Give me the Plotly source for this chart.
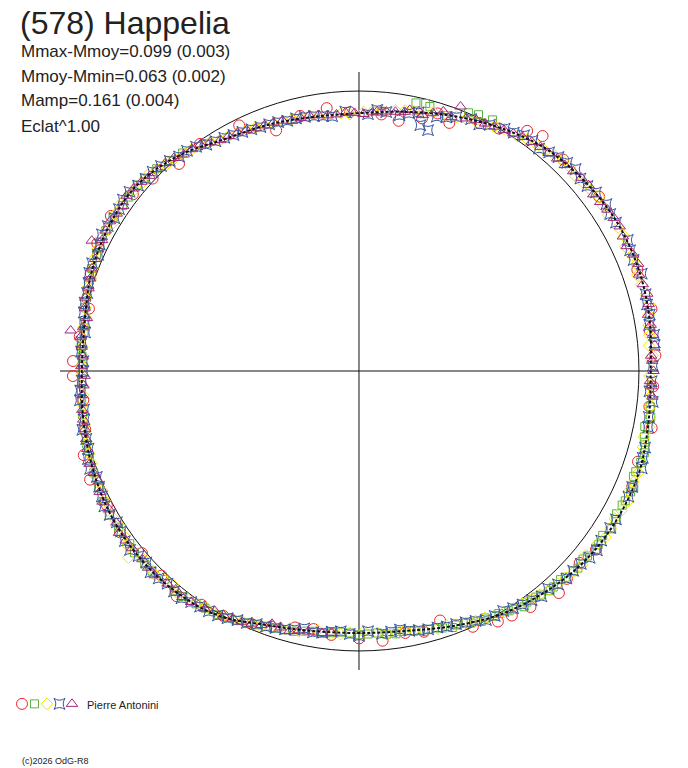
import plotly.graph_objects as go

# phase (deg, 0 at top, clockwise) and relative flux for each session
red_ph = [9, 17, 20, 35, 41, 47, 50, 57, 66, 73, 82, 93, 101, 108, 113, 122, 131, 138, 144, 151,
          162, 170, 175, 186, 194, 203, 214, 224, 236, 248, 258, 269, 272, 283, 296, 313, 319, 334, 341, 353, 358,
          5, 14, 26, 30, 38, 44, 54, 62, 70, 78, 87, 97, 117, 127, 135, 148, 156, 166, 180, 190, 199, 209,
          219, 230, 242, 253, 264, 277, 290, 302, 308, 325, 347]
red_fl = [0.905, 0.962, 0.943, 1.047, 1.083, 1.089, 1.087, 1.097, 1.070, 1.076, 1.048, 1.052, 1.065, 1.048,
          1.060, 1.096, 1.045, 1.067, 1.042, 1.023, 0.937, 0.950, 0.967, 0.948, 0.944, 0.982, 1.007, 1.016,
          1.030, 1.036, 1.000, 1.022, 1.022, 0.990, 1.040, 1.008, 0.980, 0.976, 0.909, 0.946, 0.925,
          0.920, 0.930, 0.985, 1.000, 1.065, 1.050, 1.060, 1.080, 1.058, 1.068, 1.060, 1.045, 1.072, 1.060,
          1.050, 1.030, 1.000, 0.960, 0.955, 0.936, 0.965, 1.000, 1.035, 1.012, 1.020, 1.028, 0.990, 1.005,
          1.020, 1.045, 1.025, 0.990, 0.935]

green_ph = [5, 12, 14, 15, 19, 23, 25, 28, 97, 101, 104, 108, 111, 114, 117, 120, 124, 127, 130, 133, 136,
            139, 142, 145, 148, 151, 154, 157, 160, 163, 166, 169, 172, 176, 180, 184, 188, 192, 196, 200,
            204, 208, 213, 218, 223, 228, 233, 240, 246, 252, 258, 264, 268, 271, 275, 280, 285, 291, 296,
            302, 307, 312, 318,
            99, 103, 106, 110, 113, 116, 119, 122, 126, 129, 132, 135, 138, 141, 144, 147, 150, 153, 156,
            159, 162, 165, 168, 171, 174, 178, 182, 186, 190, 194, 198, 202, 206, 210, 215, 220, 226, 231,
            237, 243, 249, 255, 261, 266, 273, 278, 283, 288, 294, 299, 305, 310, 315, 321, 326]
green_fl = [0.930, 0.979, 0.985, 0.978, 0.965, 1.002, 1.010, 1.016, 1.048, 1.040, 1.052, 1.058, 1.050, 1.062,
            1.055, 1.060, 1.050, 1.058, 1.045, 1.048, 1.036, 1.040, 1.025, 1.028, 1.010, 1.002, 0.995, 0.980,
            0.975, 0.960, 0.958, 0.945, 0.948, 0.938, 0.942, 0.935, 0.946, 0.950, 0.962, 0.970, 0.985, 0.998,
            1.010, 1.022, 1.018, 1.030, 1.025, 1.030, 1.018, 1.012, 1.005, 0.996, 0.992, 0.988, 0.996, 0.998,
            1.008, 1.022, 1.030, 1.036, 1.032, 1.030, 1.012,
            1.055, 1.046, 1.060, 1.052, 1.066, 1.058, 1.052, 1.064, 1.056, 1.050, 1.052, 1.042, 1.038, 1.030,
            1.020, 1.015, 1.000, 0.990, 0.985, 0.972, 0.965, 0.955, 0.950, 0.942, 0.945, 0.940, 0.936, 0.940,
            0.944, 0.958, 0.966, 0.978, 0.992, 1.005, 1.015, 1.025, 1.028, 1.032, 1.024, 1.026, 1.015, 1.008,
            1.000, 0.994, 0.990, 0.992, 1.004, 1.016, 1.026, 1.034, 1.030, 1.034, 1.022, 1.002, 0.980]

yellow_ph = [1, 5, 10, 14, 19, 23, 27, 31, 36, 40, 44, 48, 52, 56, 61, 65, 69, 73, 77, 81, 85, 88, 91, 95,
             99, 103, 108, 112, 116, 120, 124, 129, 133, 137, 141, 145, 149, 153, 157, 161, 166, 170, 174,
             179, 184, 189, 193, 197, 201, 205, 209, 213, 217, 221, 225, 229, 233, 237, 241, 245, 249, 253,
             257, 261, 265, 269, 273, 277, 281, 285, 289, 293, 297, 301, 305, 309, 313, 317, 321, 325, 329,
             333, 337, 341, 345, 349, 353, 356,
             3, 8, 12, 16, 21, 25, 29, 34, 38, 42, 46, 50, 54, 58, 63, 67, 71, 75, 79, 83, 87, 93, 97, 101,
             105, 110, 114, 118, 122, 126, 131, 135, 139, 143, 147, 151, 155, 159, 163, 168, 172, 176, 182,
             186, 191, 195, 199, 203, 207, 211, 215, 219, 223, 227, 231, 235, 239, 243, 247, 251, 255, 259,
             263, 267, 271, 275, 279, 283, 287, 291, 295, 299, 303, 307, 311, 315, 319, 323, 327, 331, 335,
             339, 343, 347, 351, 358]
yellow_fl = [0.925, 0.935, 0.945, 0.952, 0.965, 0.978, 0.990, 1.008, 1.022, 1.030, 1.045, 1.040, 1.050, 1.052,
             1.058, 1.050, 1.062, 1.055, 1.064, 1.048, 1.040, 1.046, 1.038, 1.045, 1.052, 1.045, 1.060, 1.058,
             1.066, 1.055, 1.062, 1.045, 1.050, 1.040, 1.028, 1.015, 1.005, 0.990, 0.978, 0.962, 0.955, 0.940,
             0.945, 0.932, 0.942, 0.938, 0.955, 0.958, 0.978, 0.985, 1.000, 1.005, 1.018, 1.012, 1.030, 1.022,
             1.035, 1.018, 1.028, 1.012, 1.020, 1.008, 1.002, 0.998, 0.990, 0.992, 0.985, 0.998, 0.992, 1.010,
             1.012, 1.028, 1.036, 1.025, 1.040, 1.030, 1.030, 1.008, 1.000, 0.985, 0.962, 0.955, 0.945, 0.935,
             0.930, 0.928, 0.918, 0.922,
             0.930, 0.940, 0.948, 0.962, 0.972, 0.985, 0.998, 1.012, 1.028, 1.040, 1.048, 1.046, 1.058, 1.050,
             1.062, 1.058, 1.052, 1.060, 1.055, 1.046, 1.050, 1.042, 1.048, 1.055, 1.050, 1.062, 1.055, 1.062,
             1.060, 1.052, 1.055, 1.045, 1.035, 1.022, 1.012, 0.998, 0.985, 0.970, 0.962, 0.948, 0.942, 0.938,
             0.935, 0.945, 0.948, 0.952, 0.970, 0.980, 0.995, 1.008, 1.012, 1.025, 1.020, 1.028, 1.060, 1.025,
             1.022, 1.020, 1.015, 1.010, 1.006, 0.998, 0.995, 0.988, 0.990, 0.992, 0.996, 1.002, 1.015, 1.020,
             1.030, 1.032, 1.035, 1.035, 1.025, 1.020, 1.005, 0.992, 0.975, 0.960, 0.950, 0.940, 0.932, 0.928,
             0.922, 0.918]

blue_ph = [2, 6, 9, 13, 17, 21, 24, 28, 33, 37, 41, 45, 49, 53, 58, 62, 66, 71, 75, 79, 83, 86, 89, 92, 96,
           99, 103, 107, 111, 115, 118, 122, 127, 131, 135, 139, 143, 147, 151, 155, 159, 163, 167, 171, 175,
           178, 182, 186, 190, 194, 198, 202, 206, 210, 214, 218, 222, 226, 230, 234, 238, 242, 246, 250, 254,
           258, 262, 266, 270, 274, 278, 282, 286, 290, 294, 298, 302, 306, 310, 314, 318, 322, 326, 330, 334,
           338, 342, 346, 350, 354, 357,
           4, 11, 14, 16, 19, 26, 31, 35, 39, 43, 47, 51, 56, 60, 64, 68, 73, 77, 81, 85, 87, 94, 98, 101,
           105, 109, 113, 117, 120, 125, 129, 133, 137, 141, 145, 149, 153, 157, 161, 165, 169, 173, 180,
           184, 188, 192, 196, 200, 204, 208, 212, 216, 220, 224, 228, 232, 236, 240, 244, 248, 252, 256,
           260, 264, 268, 272, 276, 280, 284, 288, 292, 296, 300, 304, 308, 312, 316, 320, 324, 328, 332,
           336, 340, 344, 348, 352]
blue_fl = [0.918, 0.930, 0.925, 0.948, 0.950, 0.972, 0.985, 0.996, 1.015, 1.030, 1.035, 1.052, 1.048, 1.060,
           1.058, 1.075, 1.060, 1.068, 1.060, 1.058, 1.062, 1.072, 1.050, 1.046, 1.055, 1.048, 1.070, 1.060,
           1.075, 1.062, 1.070, 1.058, 1.064, 1.050, 1.048, 1.030, 1.025, 1.010, 1.000, 0.985, 0.968, 0.958,
           0.950, 0.935, 0.942, 0.930, 0.940, 0.936, 0.948, 0.952, 0.965, 0.975, 0.990, 1.008, 1.015, 1.030,
           1.022, 1.035, 1.028, 1.034, 1.020, 1.030, 1.016, 1.022, 1.005, 1.010, 0.992, 0.998, 0.985, 0.995,
           0.988, 1.005, 1.010, 1.025, 1.020, 1.040, 1.030, 1.042, 1.030, 1.025, 1.010, 0.998, 0.975, 0.962,
           0.950, 0.940, 0.935, 0.930, 0.925, 0.915, 0.928,
           0.935, 0.938, 0.905, 0.895, 0.958, 0.980, 1.010, 1.028, 1.022, 1.045, 1.058, 1.050, 1.066, 1.060,
           1.068, 1.058, 1.070, 1.056, 1.050, 1.060, 1.090, 1.040, 1.085, 1.052, 1.058, 1.068, 1.060, 1.078,
           1.060, 1.056, 1.060, 1.046, 1.042, 1.036, 1.018, 1.000, 0.998, 0.975, 0.965, 0.955, 0.945, 0.938,
           0.946, 0.932, 0.944, 0.940, 0.960, 0.972, 0.985, 1.000, 1.012, 1.020, 1.028, 1.030, 1.022, 1.038,
           1.025, 1.028, 1.022, 1.010, 1.018, 1.004, 0.996, 1.002, 0.990, 0.986, 0.996, 0.994, 1.010, 1.016,
           1.028, 1.030, 1.036, 1.034, 1.040, 1.026, 1.018, 1.000, 0.990, 0.968, 0.955, 0.945, 0.938, 0.930,
           0.928, 0.920]

purple_ph = [186, 191, 195, 199, 203, 207, 211, 216, 220, 225, 229, 234, 238, 243, 247, 251, 256, 260, 265,
             269, 273, 277, 278, 281, 285, 289, 293, 297, 301, 305, 309, 313, 317, 321, 325, 329, 333, 337,
             341, 345, 349, 353, 357, 1, 4, 8, 11, 14, 18, 21, 25, 29, 33, 37, 41, 45, 49, 53, 57, 61, 65,
             69, 73, 77, 81, 85, 88, 92, 95,
             188, 193, 197, 201, 205, 209, 213, 218, 222, 227, 232, 236, 241, 245, 249, 254, 258, 262, 267,
             271, 275, 279, 283, 287, 291, 295, 296, 299, 303, 307, 311, 315, 319, 323, 327, 331, 335, 339,
             343, 347, 351, 355, 359, 3, 6, 10, 13, 16, 20, 23, 27, 31, 35, 39, 43, 47, 51, 55, 59, 63, 67,
             71, 75, 79, 83, 87, 90, 93]
purple_fl = [0.940, 0.948, 0.962, 0.955, 0.980, 0.992, 1.000, 1.020, 1.018, 1.032, 1.025, 1.030, 1.022,
             1.028, 1.010, 1.018, 1.004, 1.000, 0.992, 0.980, 0.988, 1.002, 1.040, 0.990, 1.012, 1.015,
             1.024, 1.030, 1.038, 1.028, 1.036, 1.022, 1.015, 0.995, 0.988, 0.962, 0.955, 0.942, 0.938,
             0.925, 0.930, 0.920, 0.925, 0.918, 0.930, 0.935, 0.950, 0.942, 0.975, 1.012, 0.990, 0.998,
             1.012, 1.025, 1.032, 1.040, 1.052, 1.048, 1.058, 1.065, 1.055, 1.068, 1.060, 1.062, 1.055,
             1.060, 1.048, 1.040, 1.052,
             0.945, 0.952, 0.958, 0.972, 0.988, 0.998, 1.012, 1.025, 1.022, 1.030, 1.028, 1.034, 1.020,
             1.022, 1.016, 1.010, 1.000, 0.998, 0.985, 0.992, 0.994, 0.998, 1.005, 1.010, 1.022, 1.028,
             1.062, 1.035, 1.032, 1.040, 1.030, 1.020, 1.008, 0.992, 0.975, 0.960, 0.950, 0.940, 0.935,
             0.928, 0.925, 0.920, 0.922, 0.925, 0.932, 0.940, 0.952, 0.958, 0.965, 0.980, 0.992, 1.005,
             1.020, 1.030, 1.038, 1.046, 1.055, 1.052, 1.062, 1.058, 1.064, 1.058, 1.066, 1.052, 1.058,
             1.045, 1.052, 1.046]

# fitted curve
fit_ph = [0, 10, 20, 30, 40, 50, 60, 70, 80, 90, 100, 110, 120, 130, 140, 150, 160, 170, 180,
          190, 200, 210, 220, 230, 240, 250, 260, 270, 280, 290, 300, 310, 320, 330, 340, 350, 360]
fit_fl = [0.921, 0.940, 0.970, 1.004, 1.037, 1.053, 1.064, 1.063, 1.054, 1.042, 1.050, 1.064, 1.063,
          1.054, 1.032, 1.005, 0.970, 0.943, 0.936, 0.943, 0.966, 1.008, 1.025, 1.029, 1.025, 1.013,
          1.000, 0.990, 0.995, 1.018, 1.032, 1.034, 1.003, 0.957, 0.937, 0.922, 0.921]

series = [
    (red_ph, red_fl, 'circle-open', '#e8262d', 11),
    (green_ph, green_fl, 'square-open', '#5ab33f', 8),
    (yellow_ph, yellow_fl, 'diamond-open', '#f2e600', 9),
    (blue_ph, blue_fl, 'star-square-open', '#3553a5', 10),
    (purple_ph, purple_fl, 'triangle-up-open', '#a3287c', 10),
]

fig = go.Figure()
for ph, fl, sym, col, sz in series:
    fig.add_trace(go.Scatterpolar(r=fl, theta=ph, mode='markers',
                                  marker=dict(symbol=sym, size=sz, color=col, line=dict(width=1, color=col))))
fig.add_trace(go.Scatterpolar(r=fit_fl, theta=fit_ph, mode='lines',
                              line=dict(color='#111', width=2, dash='3px,2px', shape='spline')))

# legend markers along the bottom
for i, (ph, fl, sym, col, sz) in enumerate(series):
    fig.add_trace(go.Scatter(x=[i], y=[0], mode='markers', xaxis='x2', yaxis='y2',
                             marker=dict(symbol=sym, size=sz, color=col, line=dict(width=1, color=col))))

fig.update_layout(
    width=688, height=768,
    margin=dict(l=0, r=0, t=0, b=0),
    paper_bgcolor='white', plot_bgcolor='white',
    showlegend=False,
    font=dict(family='Liberation Sans, Arial', color='#222'),
    polar=dict(
        domain=dict(x=[0.0872, 0.9564], y=[0.1276, 0.90625]),
        bgcolor='white',
        radialaxis=dict(range=[0, 1.068], tickvals=[1.0], showticklabels=False, ticks='',
                        showline=False, gridcolor='#111', gridwidth=1),
        angularaxis=dict(rotation=90, direction='clockwise', tickvals=[0, 90, 180, 270],
                         showticklabels=False, ticks='', showline=False,
                         gridcolor='#111', gridwidth=1),
    ),
    xaxis2=dict(domain=[15.75 / 688, 78.25 / 688], range=[-0.5, 4.5], visible=False),
    yaxis2=dict(domain=[0.07, 0.097], range=[-1, 1], visible=False),
    annotations=[
        dict(text='(578) Happelia', x=18 / 688, y=1 - 23 / 768, xref='paper', yref='paper',
             xanchor='left', yanchor='middle', showarrow=False, font=dict(size=32, color='#222')),
        dict(text='Mmax-Mmoy=0.099 (0.003)', x=19 / 688, y=1 - 51 / 768, xref='paper', yref='paper',
             xanchor='left', yanchor='middle', showarrow=False, font=dict(size=17)),
        dict(text='Mmoy-Mmin=0.063 (0.002)', x=19 / 688, y=1 - 76 / 768, xref='paper', yref='paper',
             xanchor='left', yanchor='middle', showarrow=False, font=dict(size=17)),
        dict(text='Mamp=0.161 (0.004)', x=19 / 688, y=1 - 101 / 768, xref='paper', yref='paper',
             xanchor='left', yanchor='middle', showarrow=False, font=dict(size=17)),
        dict(text='Eclat^1.00', x=19 / 688, y=1 - 126 / 768, xref='paper', yref='paper',
             xanchor='left', yanchor='middle', showarrow=False, font=dict(size=17)),
        dict(text='Pierre Antonini', x=85 / 688, y=1 - 705 / 768, xref='paper', yref='paper',
             xanchor='left', yanchor='middle', showarrow=False, font=dict(size=11)),
        dict(text='(c)2026 OdG-R8', x=20 / 688, y=1 - 761 / 768, xref='paper', yref='paper',
             xanchor='left', yanchor='middle', showarrow=False, font=dict(size=9)),
    ],
)

fig.write_html("out.html", config=dict(displayModeBar=False),
               post_script="document.body.style.margin='0px';")
